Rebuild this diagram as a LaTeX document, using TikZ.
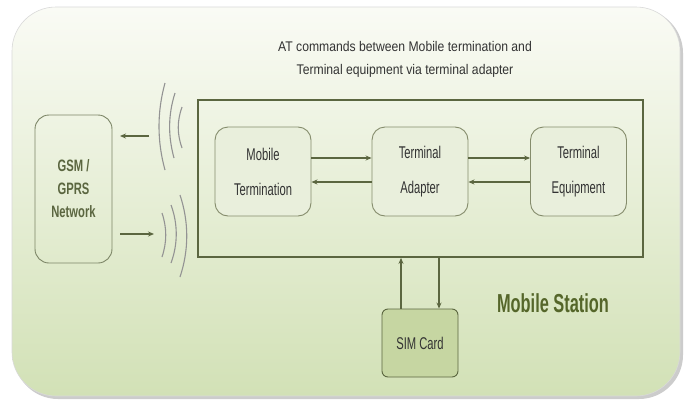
\documentclass[tikz,border=0pt]{standalone}
\usepackage{fontspec}
\setmainfont{Liberation Sans}
\newfontfamily\titlefont[FakeStretch=0.87]{Liberation Sans}
\newfontfamily\boxfont[FakeStretch=0.66]{Liberation Sans}
\newfontfamily\gsmfont[FakeStretch=0.68]{Liberation Sans}
\newfontfamily\msfont[FakeStretch=0.63]{Liberation Sans}
\usetikzlibrary{arrows.meta}
\definecolor{olive}{HTML}{5B6640}
\definecolor{boxline}{HTML}{858C6C}
\definecolor{boxfill}{HTML}{E9EFDC}
\definecolor{simfill}{HTML}{C6D6A2}
\definecolor{txtgray}{HTML}{333333}
\definecolor{mstext}{HTML}{55662A}
\definecolor{bgtop}{HTML}{FAFBF5}
\definecolor{bgbot}{HTML}{D2E1B6}
\tikzset{
  inner/.style={draw=boxline, line width=0.9pt, fill=boxfill, rounded corners=13pt,
    minimum width=96pt, minimum height=89pt, align=center, text=txtgray,
    font={\boxfont\fontsize{17}{35}\selectfont}, inner sep=0pt},
  arr/.style={draw=olive, line width=1.5pt, -{Stealth[length=6pt,width=5pt]}},
  wave/.style={draw=gray!85, line width=1.1pt},
}
\begin{document}
\begin{tikzpicture}[x=1pt,y=-1pt]
\useasboundingbox (0,0) rectangle (688,399);
\fill[white] (0,0) rectangle (688,399);
% shadow
\fill[gray!40, rounded corners=44pt] (14,9) rectangle (683,399);
% panel
\shade[top color=bgtop, bottom color=bgbot, draw=gray!30, line width=0.6pt, rounded corners=44pt]
  (12,7) rectangle (680,396);
% title
\node[align=center, font={\titlefont\fontsize{14}{23}\selectfont}, text=txtgray] (title) at (405,59.5)
  {AT commands between Mobile termination and\\Terminal equipment via terminal adapter};
% mobile station frame
\node[draw=olive, line width=1.8pt, minimum width=445pt, minimum height=157pt, inner sep=0pt] (ms) at (420.5,178.5) {};
% inner boxes
\node[inner] (mt) at (263,171.5) {Mobile\\Termination};
\node[inner] (ta) at (420,171.5) {Terminal\\Adapter};
\node[inner] (te) at (578.5,171.5) {Terminal\\Equipment};
% GSM
\node[draw=olive!80, line width=0.9pt, rounded corners=14pt, minimum width=77pt, minimum height=148pt,
  align=center, inner sep=0pt, text=olive, font={\gsmfont\bfseries\fontsize{16.5}{23}\selectfont}] (gsm) at (73.5,189)
  {GSM /\\GPRS\\Network};
% SIM
\node[draw=olive, line width=0.9pt, fill=simfill, rounded corners=6pt, minimum width=76pt, minimum height=68pt,
  inner sep=0pt, text=txtgray, font={\boxfont\fontsize{17}{20}\selectfont}] (sim) at (420,343) {SIM Card};
% Mobile Station label
\node[text=mstext, font={\msfont\bfseries\fontsize{26}{30}\selectfont}] (mslabel) at (553,303) {Mobile Station};
% arrows inside
\draw[arr] ([yshift=13.5pt]mt.east) -- ([yshift=13.5pt]ta.west);
\draw[arr] ([yshift=-10.5pt]ta.west) -- ([yshift=-10.5pt]mt.east);
\draw[arr] ([yshift=13.5pt]ta.east) -- ([yshift=13.5pt]te.west);
\draw[arr] ([yshift=-10.5pt]te.west) -- ([yshift=-10.5pt]ta.east);
% SIM arrows
\draw[arr] ([xshift=-19pt]sim.north) -- ([xshift=-19pt]sim.north |- ms.south);
\draw[arr] ([xshift=19pt]sim.north |- ms.south) -- ([xshift=19pt]sim.north);
% radio arrows
\coordinate (u1) at (149,136);
\coordinate (u2) at (120,136);
\coordinate (l1) at (120,234);
\coordinate (l2) at (154,234);
\draw[arr] (u1) -- (u2);
\draw[arr] (l1) -- (l2);
% waves upper
\draw[wave] (165,83) .. controls (157,112) and (157,141) .. (165,170);
\draw[wave] (175,93) .. controls (168,115) and (168,136) .. (174,158);
\draw[wave] (182,107) .. controls (177,121) and (177,134) .. (182,148);
% waves lower
\draw[wave] (162,213) .. controls (167,228) and (167,242) .. (162,257);
\draw[wave] (171,205) .. controls (178,224) and (178,244) .. (171,263);
\draw[wave] (180,195) .. controls (189,222) and (189,250) .. (180,277);
\end{tikzpicture}
\end{document}
